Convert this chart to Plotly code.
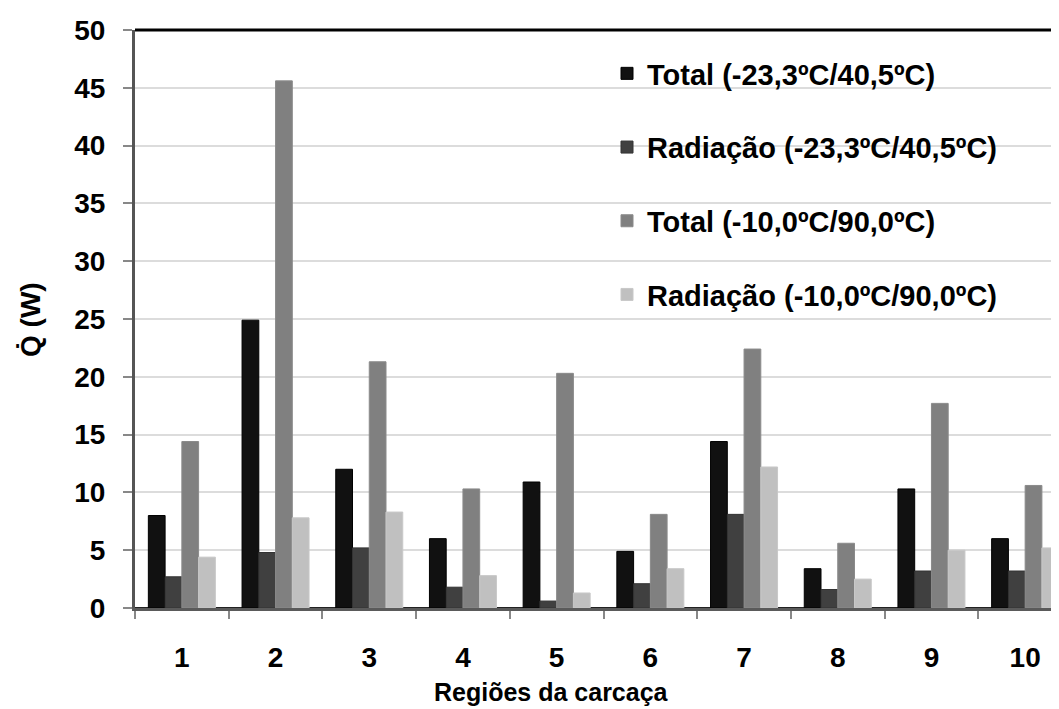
import plotly.graph_objects as go

regions = ["1", "2", "3", "4", "5", "6", "7", "8", "9", "10"]
total_a = [8.0, 24.9, 12.0, 6.0, 10.9, 4.9, 14.4, 3.4, 10.3, 6.0]
rad_a = [2.7, 4.8, 5.2, 1.8, 0.6, 2.1, 8.1, 1.6, 3.2, 3.2]
total_b = [14.4, 45.6, 21.3, 10.3, 20.3, 8.1, 22.4, 5.6, 17.7, 10.6]
rad_b = [4.4, 7.8, 8.3, 2.8, 1.3, 3.4, 12.2, 2.5, 5.0, 5.2]

series_names = [
    "Total (-23,3ºC/40,5ºC)",
    "Radiação (-23,3ºC/40,5ºC)",
    "Total (-10,0ºC/90,0ºC)",
    "Radiação (-10,0ºC/90,0ºC)",
]
series_values = [total_a, rad_a, total_b, rad_b]
colors = ["#111111", "#404040", "#808080", "#c0c0c0"]
edge = ["#000000", "#333333", "#8a8a8a", "#c8c8c8"]

# page body has an 8px default margin; compensate so the picture matches
OFF = 8
W, H = 1059 - OFF, 709 - OFF
ML, MR, MT = 135 - OFF, 0, 30 - OFF
PLOT_BOTTOM = 608 - OFF
MB = H - PLOT_BOTTOM
plot_w = W - ML - MR
plot_h = PLOT_BOTTOM - MT


def px_x(px):
    return (px - OFF - ML) / plot_w


def px_y(py):
    return (PLOT_BOTTOM - (py - OFF)) / plot_h


BOLD = dict(family="Liberation Sans, Arial, sans-serif", size=28, color="black", weight="bold")
LEG = dict(family="Liberation Sans, Arial, sans-serif", size=29, color="black", weight="bold")

fig = go.Figure()
for i, (name, vals) in enumerate(zip(series_names, series_values)):
    fig.add_trace(go.Bar(
        x=regions, y=vals, name=name,
        marker=dict(color=colors[i], line=dict(color=edge[i], width=1)),
        legendgroup=f"g{i}",
    ))

cat_px = 93.7
x_end = -0.5 + plot_w / cat_px

fig.update_layout(
    width=W, height=H,
    margin=dict(l=ML, r=MR, t=MT, b=MB, autoexpand=False),
    paper_bgcolor="white", plot_bgcolor="white",
    barmode="group", bargap=0.285, bargroupgap=0,
    showlegend=True,
    legend=dict(
        x=px_x(607), y=px_y(48), xanchor="left", yanchor="top",
        font=LEG, bgcolor="rgba(0,0,0,0)", traceorder="grouped",
        tracegroupgap=33, itemwidth=30,
    ),
    xaxis=dict(
        type="category", range=[-0.5, x_end],
        showgrid=False, tickson="boundaries",
        ticks="outside", ticklen=8, tickwidth=1.5, tickcolor="#888888",
        showline=True, linecolor="#5a5a5a", linewidth=3,
        tickfont=BOLD, ticklabelstandoff=22,
    ),
    yaxis=dict(
        range=[0, 50], dtick=5, tick0=0,
        showgrid=True, gridcolor="#dcdcdc", gridwidth=1.5,
        ticks="outside", ticklen=9, tickwidth=1.5, tickcolor="#888888",
        showline=True, linecolor="#555555", linewidth=3,
        zeroline=True, zerolinecolor="#222222", zerolinewidth=2,
        tickfont=BOLD, ticklabelstandoff=12, layer="below traces",
    ),
    shapes=[dict(type="line", xref="paper", yref="paper", x0=0, x1=1, y0=1, y1=1,
                 line=dict(color="black", width=3))],
    annotations=[
        dict(text="Q\u0307 (W)", xref="paper", yref="paper",
             x=px_x(30), y=px_y(320), textangle=-90,
             showarrow=False, xanchor="center", yanchor="middle", font=BOLD),
        dict(text="Regiões da carcaça", xref="paper", yref="paper",
             x=px_x(551), y=px_y(692),
             showarrow=False, xanchor="center", yanchor="middle",
             font=dict(family="Liberation Sans, Arial, sans-serif",
                       size=25, color="black", weight="bold")),
    ],
)

fig.write_html("out.html")
